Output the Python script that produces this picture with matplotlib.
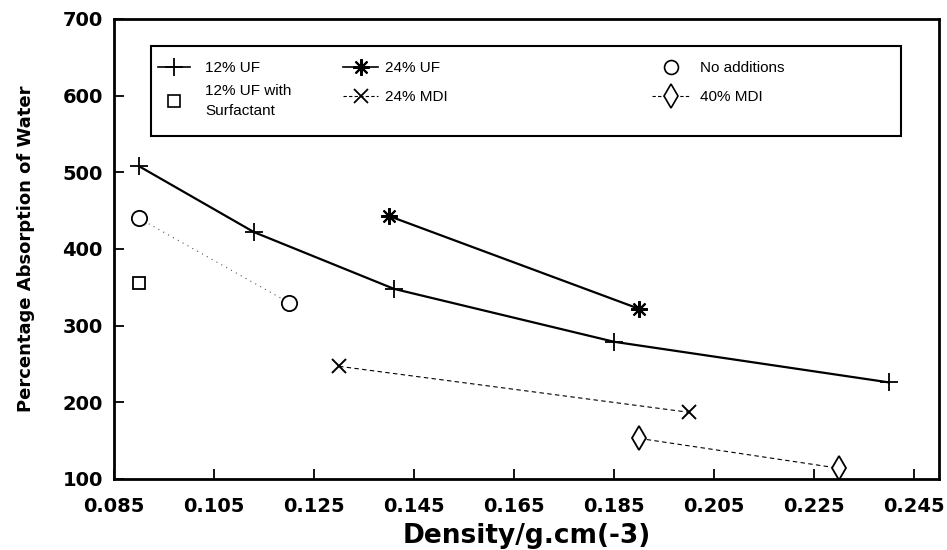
# -*- coding: utf-8 -*-

import matplotlib
matplotlib.use('Agg')
import matplotlib.pyplot as plt
from matplotlib.lines import Line2D
from matplotlib.patches import Rectangle

# data
uf12_x = [0.090, 0.113, 0.141, 0.185, 0.240]
uf12_y = [508, 422, 348, 279, 226]

uf24_x = [0.140, 0.190]
uf24_y = [443, 322]

noadd_x = [0.090, 0.120]
noadd_y = [440, 330]

surf_x = [0.090]
surf_y = [355]

mdi24_x = [0.130, 0.200]
mdi24_y = [247, 187]

mdi40_x = [0.190, 0.230]
mdi40_y = [153, 114]

x_ticks = [0.085, 0.105, 0.125, 0.145, 0.165, 0.185, 0.205, 0.225, 0.245]
y_ticks = [100, 200, 300, 400, 500, 600, 700]

W, H = 947, 550


def figpos(px, py):
    # pixel position (from top-left) -> figure fraction
    return px / W, 1 - py / H


plt.rcParams['font.family'] = ['Liberation Sans', 'DejaVu Sans']

fig = plt.figure(figsize=(W / 100, H / 100), dpi=100)
ax = fig.add_axes([114 / W, 1 - 479 / H, 825 / W, 460 / H])

asterisk = (8, 2, 0)

ax.plot(uf12_x, uf12_y, color='black', lw=1.6, marker='+', ms=13, mew=1.3)
ax.plot(uf24_x, uf24_y, color='black', lw=1.6, marker=asterisk, ms=12, mew=1.5)
ax.plot(noadd_x, noadd_y, color='#555555', lw=0.8, linestyle=(0, (1, 4)),
        marker='o', ms=11, mew=1.3, mfc='white', mec='black')
ax.plot(surf_x, surf_y, linestyle='none', marker='s', ms=9, mew=1.3,
        mfc='white', mec='black')
ax.plot(mdi24_x, mdi24_y, color='black', lw=0.8, linestyle=(0, (4, 3)),
        marker='x', ms=10, mew=1.4)
ax.plot(mdi40_x, mdi40_y, color='black', lw=0.8, linestyle=(0, (4, 3)),
        marker='d', ms=12, mew=1.3, mfc='white', mec='black')

ax.set_xlim(0.085, 0.25)
ax.set_ylim(100, 700)
ax.set_xticks(x_ticks)
ax.set_xticklabels([f'{t:.3f}' for t in x_ticks])
ax.set_yticks(y_ticks)

ax.tick_params(direction='in', length=7, width=1.3)
ax.tick_params(axis='x', pad=13)
ax.tick_params(axis='y', pad=8)
for lab in ax.get_xticklabels() + ax.get_yticklabels():
    lab.set_fontfamily('DejaVu Sans')
    lab.set_fontweight('bold')
    lab.set_fontsize(14)
for sp in ax.spines.values():
    sp.set_linewidth(2)

ax.set_xlabel('Density/g.cm(-3)', fontsize=19, fontweight='bold',
              family='DejaVu Sans', labelpad=5)
ax.set_ylabel('Percentage Absorption of Water', fontsize=13, fontweight='bold',
              family='DejaVu Sans', labelpad=20)

# legend frame
x0, y0 = figpos(151, 136)
frame = Rectangle((x0, y0), 750 / W, 90 / H, transform=fig.transFigure,
                  facecolor='white', edgecolor='black', lw=1.5, zorder=4)
fig.add_artist(frame)

# legend: three columns, each its own legend so the spacing matches
col1_h = [
    Line2D([], [], color='black', lw=1.2, marker='+', ms=13, mew=1.3),
    Line2D([], [], linestyle='none', marker='s', ms=9, mew=1.2,
           mfc='white', mec='black'),
]
col1_l = ['12% UF', '12% UF with\nSurfactant']

col2_h = [
    Line2D([], [], color='black', lw=1.2, marker=asterisk, ms=12, mew=1.5),
    Line2D([], [], color='black', lw=0.8, linestyle=(0, (3, 2)),
           marker='x', ms=10, mew=1.3),
]
col2_l = ['24% UF', '24% MDI']

col3_h = [
    Line2D([], [], linestyle='none', marker='o', ms=10, mew=1.2,
           mfc='white', mec='black'),
    Line2D([], [], color='black', lw=0.8, linestyle=(0, (3, 2)),
           marker='d', ms=12, mew=1.2, mfc='white', mec='black'),
]
col3_l = ['No additions', '40% MDI']

cols = [
    (col1_h, col1_l, 158, 2.1, 1.0, 0.6),
    (col2_h, col2_l, 343, 2.3, 0.45, 1.0),
    (col3_h, col3_l, 652, 2.5, 0.65, 1.0),
]
for hs, ls, px, hlen, hpad, lspace in cols:
    leg = fig.legend(hs, ls, loc='upper left', bbox_to_anchor=figpos(px, 61),
                     bbox_transform=fig.transFigure, frameon=False,
                     fontsize=11, borderpad=0, borderaxespad=0,
                     handlelength=hlen, handletextpad=hpad,
                     labelspacing=lspace)
    leg.set_zorder(5)
    if px == 158:
        leg.get_texts()[1].set_linespacing(1.5)

fig.savefig('out.png', dpi=100)
